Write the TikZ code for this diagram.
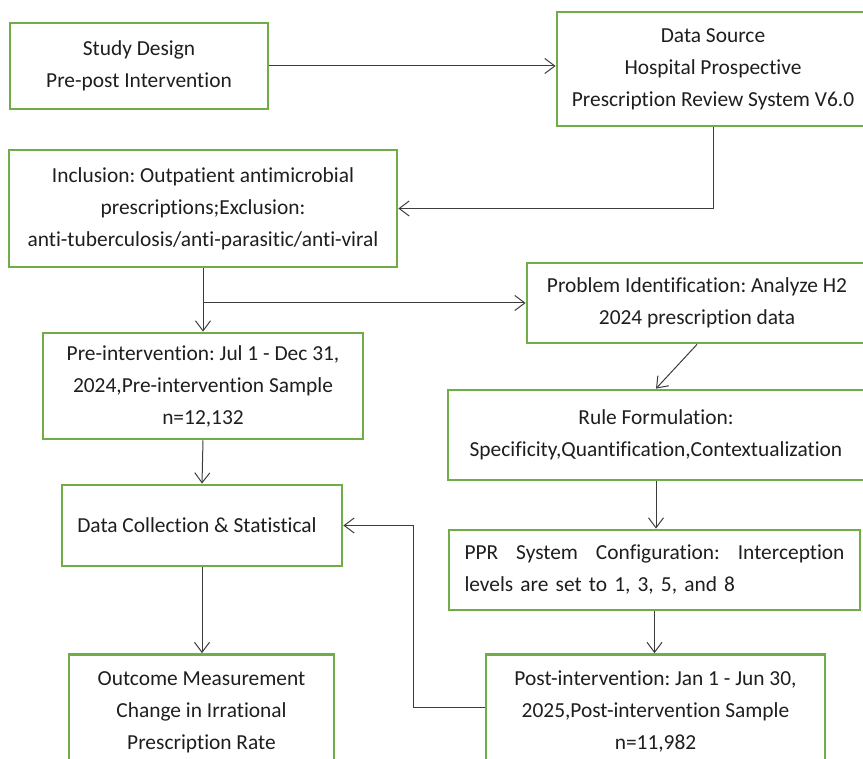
\documentclass[tikz,border=0pt]{standalone}
\usepackage{fontspec}
\setmainfont{Carlito}[Ligatures=CommonOff]
\usetikzlibrary{arrows.meta,positioning}
\definecolor{boxgreen}{RGB}{112,173,71}
\definecolor{linegray}{RGB}{60,60,60}
\definecolor{textdark}{RGB}{30,30,30}

\begin{document}
\begin{tikzpicture}[
    x=1pt, y=-1pt,
    box/.style={rectangle, draw=boxgreen, line width=2.8pt, inner sep=0pt, align=center, text=textdark, font=\fontsize{21.4}{32}\selectfont\frenchspacing},
    arrow/.style={-{Straight Barb[length=10pt,width=15pt]}, line width=1pt, draw=linegray}
]
    \useasboundingbox (0,0) rectangle (863,759);

    % Left column
    \node[box, minimum width=258, minimum height=86] (design) at (139,66) {Study Design\\Pre-post Intervention};
    \node[box, minimum width=388, minimum height=117] (incl) at (203,208.5) {Inclusion: Outpatient antimicrobial\\prescriptions;Exclusion:\\anti-tuberculosis/anti-parasitic/anti-viral};
    \node[box, minimum width=320, minimum height=106] (pre) at (203,386) {Pre-intervention: Jul 1 - Dec 31,\\2024,Pre-intervention Sample\\n=12,132};
    \node[box, minimum width=280, minimum height=81] (collect) at (202,525.5) {Data Collection \& Statistical\hspace*{10pt}};
    \node[box, minimum width=265, minimum height=115] (outcome) at (201.5,712) {Outcome Measurement\\Change in Irrational\\Prescription Rate};

    % Right column
    \node[box, minimum width=312, minimum height=114] (source) at (713,69) {Data Source\\Hospital Prospective\\Prescription Review System V6.0};
    \node[box, minimum width=340, minimum height=80] (probid) at (697,303) {Problem Identification: Analyze H2\\2024 prescription data};
    \node[box, minimum width=416, minimum height=90] (rule) at (656,435) {Rule Formulation:\\Specificity,Quantification,Contextualization};
    \node[box, minimum width=411, minimum height=80, text width=380, align=left] (ppr) at (654.5,570) {PPR\hfill System\hfill Configuration:\hfill Interception\\levels are set to 1, 3, 5, and 8};
    \node[box, minimum width=339, minimum height=115] (post) at (655.5,712) {Post-intervention: Jan 1 - Jun 30,\\2025,Post-intervention Sample\\n=11,982};

    % Arrows
    \draw[arrow] (design.east) -- (design.east -| source.west);
    \draw[arrow] (source.south) |- (incl.east);
    \draw[arrow] (incl.south) -- (pre.north);
    \draw[arrow] (incl.south) |- (probid.west);
    \draw[arrow] (probid.south) -- (rule.north);
    \draw[arrow] (rule.south) -- (rule.south |- ppr.north);
    \draw[arrow] (ppr.south) -- (ppr.south |- post.north);
    \draw[arrow] (pre.south) -- (collect.north);
    \draw[arrow] (collect.south) -- (collect.south |- outcome.north);
    \coordinate (turn) at (413,707);
    \draw[arrow] (post.west |- turn) -- (turn) |- (collect.east);
\end{tikzpicture}
\end{document}
